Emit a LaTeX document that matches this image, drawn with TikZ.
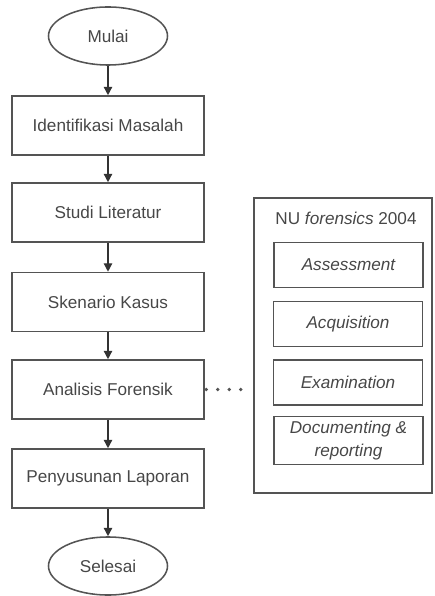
\documentclass[tikz,border=0pt]{standalone}
\usepackage{fontspec}
\setmainfont{Liberation Sans}
\usepackage{tikz}
\usetikzlibrary{arrows.meta}
\usetikzlibrary{shapes.geometric}
\usetikzlibrary{positioning}
\definecolor{linegray}{rgb}{0.33,0.33,0.33}
\definecolor{textgray}{rgb}{0.28,0.28,0.28}

\begin{document}
\begin{tikzpicture}[
			x=0.025cm, y=-0.025cm,
			every node/.style={font=\fontsize{12.2}{14}\selectfont, text=textgray},
			terminal/.style={ellipse, draw=linegray, line width=1.1pt, inner sep=0pt, minimum width=2.975cm, minimum height=1.45cm},
			process/.style={rectangle, draw=linegray, line width=1.1pt, minimum width=4.8cm, minimum height=1.475cm},
			phase/.style={rectangle, draw=linegray, line width=1.1pt, minimum width=3.725cm, minimum height=1.125cm, align=center, font=\fontsize{12.2}{16}\selectfont\itshape},
			arrow/.style={-{Triangle[length=6pt,width=6pt]}, draw=black!80, line width=1pt}
		]
		\useasboundingbox (0,0) rectangle (434,596);

		% Main flow
		\node[terminal] (start) at (108,36) {Mulai};
		\node[process] (ident) at (108,125.5) {Identifikasi Masalah};
		\node[process] (studi) at (108,212.5) {Studi Literatur};
		\node[process] (skenario) at (108,302) {Skenario Kasus};
		\node[process] (analisis) at (108,389.5) {Analisis Forensik};
		\node[process] (laporan) at (108,478.5) {Penyusunan Laporan};
		\node[terminal] (stop) at (108,566) {Selesai};

		\foreach \a/\b in {start/ident,ident/studi,studi/skenario,skenario/analisis,analisis/laporan,laporan/stop}
		\draw[arrow] (\a) -- (\b);

		% NU forensics 2004 frame
		\node[rectangle, draw=linegray, line width=1.1pt, minimum width=4.45cm, minimum height=7.375cm] (frame) at (343,345.5) {};
		\node (nutitle) at (346,218) {NU \textit{forensics} 2004};
		\node[phase] (assess) at (348.5,265) {Assessment};
		\node[phase] (acquis) at (348,324) {Acquisition};
		\node[phase] (exam) at (348,382.5) {Examination};
		\node[phase] (docum) at (348.5,440.5) {Documenting \&\\reporting};

		% Dotted link
		\coordinate (dotend) at (242,389.5);
		\draw[linegray, line width=2.6pt, line cap=round, dash pattern=on 0pt off 8.2pt] ([xshift=1pt]analisis.east) -- (dotend);

	\end{tikzpicture}
\end{document}
